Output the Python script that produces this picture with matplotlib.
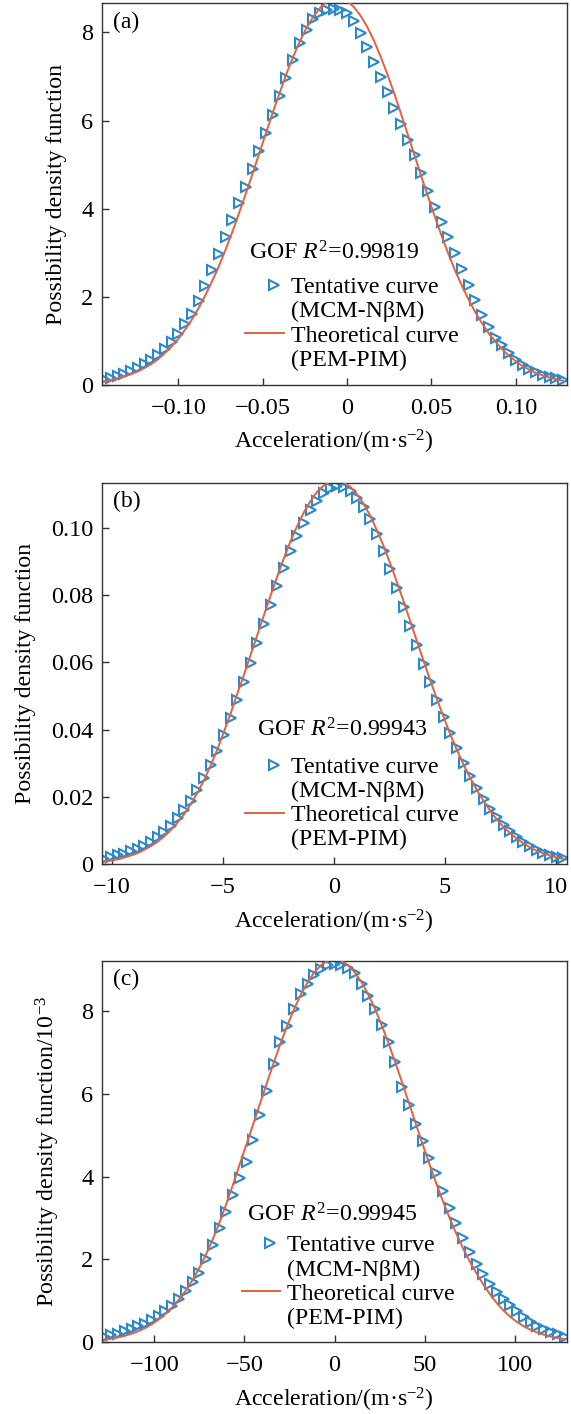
import matplotlib
matplotlib.use("Agg")
import matplotlib.pyplot as plt
from matplotlib.lines import Line2D
from matplotlib.legend_handler import HandlerLine2D

plt.rcParams['font.family'] = ['Liberation Serif', 'DejaVu Serif']
plt.rcParams['mathtext.fontset'] = 'custom'
plt.rcParams['mathtext.rm'] = 'Liberation Serif'
plt.rcParams['mathtext.it'] = 'Liberation Serif:italic'

# ---- panel (a) ----
xa = [-0.144, -0.140, -0.136, -0.132, -0.128, -0.124, -0.120, -0.116, -0.112, -0.108,
      -0.104, -0.100, -0.096, -0.092, -0.088, -0.084, -0.080, -0.076, -0.072, -0.068,
      -0.064, -0.060, -0.056, -0.052, -0.048, -0.044, -0.040, -0.036, -0.032, -0.028,
      -0.024, -0.020, -0.016, -0.012, -0.008, -0.004, 0.000, 0.004, 0.008, 0.012,
      0.016, 0.020, 0.024, 0.028, 0.032, 0.036, 0.040, 0.044, 0.048, 0.052,
      0.056, 0.060, 0.064, 0.068, 0.072, 0.076, 0.080, 0.084, 0.088, 0.092,
      0.096, 0.100, 0.104, 0.108, 0.112, 0.116, 0.120, 0.124, 0.128]
tent_a = [0.13, 0.17, 0.21, 0.26, 0.32, 0.39, 0.47, 0.57, 0.68, 0.81,
          0.97, 1.16, 1.38, 1.62, 1.90, 2.25, 2.60, 2.98, 3.36, 3.74,
          4.12, 4.50, 4.90, 5.30, 5.71, 6.13, 6.55, 6.97, 7.38, 7.76,
          8.06, 8.30, 8.45, 8.52, 8.53, 8.50, 8.45, 8.25, 7.98, 7.66,
          7.33, 7.00, 6.64, 6.28, 5.93, 5.57, 5.22, 4.82, 4.41, 4.03,
          3.69, 3.35, 2.99, 2.63, 2.27, 1.93, 1.60, 1.32, 1.07, 0.90,
          0.72, 0.56, 0.45, 0.36, 0.29, 0.23, 0.18, 0.15, 0.12]
theo_a = [0.08, 0.12, 0.15, 0.20, 0.25, 0.31, 0.39, 0.48, 0.59, 0.73,
          0.88, 1.05, 1.26, 1.49, 1.75, 2.04, 2.36, 2.70, 3.08, 3.48,
          3.91, 4.35, 4.80, 5.27, 5.73, 6.19, 6.63, 7.06, 7.45, 7.80,
          8.11, 8.36, 8.56, 8.70, 8.77, 8.77, 8.71, 8.58, 8.38, 8.12,
          7.81, 7.44, 7.04, 6.61, 6.15, 5.68, 5.21, 4.73, 4.27, 3.82,
          3.39, 2.98, 2.60, 2.26, 1.94, 1.65, 1.40, 1.17, 0.98, 0.81,
          0.66, 0.54, 0.43, 0.35, 0.27, 0.22, 0.17, 0.13, 0.10]

# ---- panel (b) ----
xb = [-10.35, -10.05, -9.75, -9.45, -9.15, -8.85, -8.55, -8.25, -7.95, -7.65,
      -7.35, -7.05, -6.75, -6.45, -6.15, -5.85, -5.55, -5.25, -4.95, -4.65,
      -4.35, -4.05, -3.75, -3.45, -3.15, -2.85, -2.55, -2.25, -1.95, -1.65,
      -1.35, -1.05, -0.75, -0.45, -0.15, 0.15, 0.45, 0.75, 1.05, 1.35,
      1.65, 1.95, 2.25, 2.55, 2.85, 3.15, 3.45, 3.75, 4.05, 4.35,
      4.65, 4.95, 5.25, 5.55, 5.85, 6.15, 6.45, 6.75, 7.05, 7.35,
      7.65, 7.95, 8.25, 8.55, 8.85, 9.15, 9.45, 9.75, 10.05, 10.35]
tent_b = [0.0017, 0.0021, 0.0026, 0.0031, 0.0038, 0.0046, 0.0055, 0.0066, 0.0080, 0.0096,
          0.0115, 0.0136, 0.0160, 0.0188, 0.0220, 0.0255, 0.0294, 0.0337, 0.0385, 0.0436,
          0.0488, 0.0542, 0.0598, 0.0656, 0.0714, 0.0771, 0.0828, 0.0881, 0.0931, 0.0976,
          0.1015, 0.1052, 0.1080, 0.1103, 0.1117, 0.1123, 0.1121, 0.1108, 0.1088, 0.1061,
          0.1026, 0.0982, 0.0932, 0.0878, 0.0822, 0.0765, 0.0707, 0.0652, 0.0596, 0.0542,
          0.0489, 0.0438, 0.0390, 0.0344, 0.0302, 0.0262, 0.0226, 0.0194, 0.0165, 0.0140,
          0.0118, 0.0098, 0.0081, 0.0066, 0.0053, 0.0043, 0.0034, 0.0027, 0.0022, 0.0018]
theo_b = [0.0009, 0.0011, 0.0015, 0.0020, 0.0026, 0.0033, 0.0043, 0.0054, 0.0067, 0.0083,
          0.0102, 0.0124, 0.0149, 0.0179, 0.0213, 0.0251, 0.0294, 0.0342, 0.0395, 0.0449,
          0.0508, 0.0564, 0.0623, 0.0682, 0.0741, 0.0799, 0.0856, 0.0910, 0.0961, 0.1006,
          0.1046, 0.1080, 0.1107, 0.1126, 0.1137, 0.1140, 0.1134, 0.1121, 0.1099, 0.1070,
          0.1034, 0.0991, 0.0944, 0.0892, 0.0837, 0.0780, 0.0721, 0.0662, 0.0603, 0.0546,
          0.0490, 0.0437, 0.0386, 0.0339, 0.0296, 0.0256, 0.0220, 0.0188, 0.0159, 0.0133,
          0.0111, 0.0092, 0.0076, 0.0062, 0.0050, 0.0040, 0.0032, 0.0026, 0.0020, 0.0016]

# ---- panel (c), values in units of 1e-3 ----
xc = [-127.5, -123.75, -120.0, -116.25, -112.5, -108.75, -105.0, -101.25, -97.5, -93.75,
      -90.0, -86.25, -82.5, -78.75, -75.0, -71.25, -67.5, -63.75, -60.0, -56.25,
      -52.5, -48.75, -45.0, -41.25, -37.5, -33.75, -30.0, -26.25, -22.5, -18.75,
      -15.0, -11.25, -7.5, -3.75, 0.0, 3.75, 7.5, 11.25, 15.0, 18.75,
      22.5, 26.25, 30.0, 33.75, 37.5, 41.25, 45.0, 48.75, 52.5, 56.25,
      60.0, 63.75, 67.5, 71.25, 75.0, 78.75, 82.5, 86.25, 90.0, 93.75,
      97.5, 101.25, 105.0, 108.75, 112.5, 116.25, 120.0, 123.75, 127.5]
tent_c = [0.14, 0.17, 0.21, 0.27, 0.32, 0.39, 0.45, 0.53, 0.64, 0.75,
          0.88, 1.04, 1.23, 1.45, 1.68, 2.01, 2.36, 2.77, 3.14, 3.55,
          3.96, 4.36, 4.88, 5.48, 6.06, 6.72, 7.25, 7.64, 8.05, 8.40,
          8.65, 8.86, 9.01, 9.10, 9.13, 9.12, 9.04, 8.91, 8.66, 8.36,
          8.06, 7.66, 7.24, 6.76, 6.16, 5.72, 5.26, 4.85, 4.45, 4.08,
          3.66, 3.24, 2.87, 2.52, 2.19, 1.90, 1.64, 1.42, 1.21, 1.05,
          0.90, 0.75, 0.60, 0.48, 0.40, 0.32, 0.25, 0.19, 0.14]
theo_c = [0.064, 0.088, 0.119, 0.158, 0.209, 0.270, 0.345, 0.439, 0.553, 0.690,
          0.845, 1.033, 1.251, 1.503, 1.794, 2.122, 2.490, 2.898, 3.346, 3.814,
          4.313, 4.792, 5.281, 5.775, 6.268, 6.749, 7.210, 7.644, 8.041, 8.393,
          8.691, 8.932, 9.107, 9.214, 9.250, 9.214, 9.107, 8.932, 8.691, 8.393,
          8.041, 7.644, 7.210, 6.749, 6.268, 5.775, 5.281, 4.792, 4.313, 3.853,
          3.414, 3.003, 2.621, 2.269, 1.950, 1.661, 1.392, 1.156, 0.943, 0.763,
          0.613, 0.488, 0.385, 0.301, 0.234, 0.180, 0.138, 0.104, 0.077]

letters = ["(a)", "(b)", "(c)"]
gof = ["0.99819", "0.99943", "0.99945"]
ylabels = ["Possibility density function", "Possibility density function",
           "Possibility density function/10$^{-3}$"]
xlims = [(-0.1455, 0.1302), (-10.47, 10.5), (-129.1, 128.7)]
ylims = [(0, 8.66), (0, 0.1134), (0, 9.215)]
xticks = [[-0.10, -0.05, 0, 0.05, 0.10], [-10, -5, 0, 5, 10], [-100, -50, 0, 50, 100]]
xticklabels = [["\u22120.10", "\u22120.05", "0", "0.05", "0.10"],
               ["\u221210", "\u22125", "0", "5", "10"],
               ["\u2212100", "\u221250", "0", "50", "100"]]
yticks = [[0, 2, 4, 6, 8], [0, 0.02, 0.04, 0.06, 0.08, 0.10], [0, 2, 4, 6, 8]]
yticklabels = [["0", "2", "4", "6", "8"],
               ["0", "0.02", "0.04", "0.06", "0.08", "0.10"],
               ["0", "2", "4", "6", "8"]]

xs = [xa, xb, xc]
tents = [tent_a, tent_b, tent_c]
theos = [theo_a, theo_b, theo_c]

blue = "#2a88cc"
red = "#e5603c"

fig = plt.figure(figsize=(5.71, 14.14), dpi=100)
bottoms = [0.7277, 0.3888, 0.0507]
ylab_x = [-0.074, -0.141, -0.086]
leg_pos = [(0.309, 0.284), (0.309, 0.283), (0.301, 0.282)]
gof_pos = [(0.317, 0.346), (0.333, 0.352), (0.312, 0.334)]

for i in range(3):
    ax = fig.add_axes([0.1781, bottoms[i], 0.8144, 0.2699])
    ax.plot(xs[i], tents[i], ls="none", marker=">", ms=6.8, mfc="none",
            mec=blue, mew=1.5, zorder=2)
    ax.plot(xs[i], theos[i], color=red, lw=1.4, zorder=3)
    ax.set_xlim(*xlims[i])
    ax.set_ylim(*ylims[i])
    ax.set_xticks(xticks[i], xticklabels[i])
    ax.set_yticks(yticks[i], yticklabels[i])
    ax.tick_params(direction="in", length=5, width=1, labelsize=17.5,
                   color="#333333")
    ax.tick_params(axis="x", pad=9)
    ax.tick_params(axis="y", pad=6)
    for s in ax.spines.values():
        s.set_color("#333333")
        s.set_linewidth(1)
    ax.set_xlabel("Acceleration/(m\u00b7s$^{-2}$)", fontsize=17.2, labelpad=7)
    ax.set_ylabel(ylabels[i], fontsize=17.2)
    ax.yaxis.set_label_coords(ylab_x[i], 0.5)
    ax.text(0.024, 0.95, letters[i], transform=ax.transAxes, fontsize=17,
            ha="left", va="center")
    ax.text(gof_pos[i][0], gof_pos[i][1], "GOF $R^2$=" + gof[i],
            transform=ax.transAxes, fontsize=17.2, ha="left", va="center")

    h_tent = Line2D([], [], ls="none", marker=">", ms=6.8, mfc="none",
                    mec=blue, mew=1.5)
    h_theo = Line2D([], [], color=red, lw=1.4)
    h_none = Line2D([], [], ls="none")
    ax.legend([h_tent, h_none, h_theo, h_none],
              ["Tentative curve", "(MCM-N\u03b2M)", "Theoretical curve", "(PEM-PIM)"],
              loc="upper left", bbox_to_anchor=leg_pos[i], frameon=False,
              fontsize=17.2, handlelength=1.6, handletextpad=0.3,
              labelspacing=0.1, borderpad=0, borderaxespad=0, numpoints=1,
              handler_map={h_tent: HandlerLine2D(xpad=0.8)})

fig.savefig("out.png", dpi=100)
